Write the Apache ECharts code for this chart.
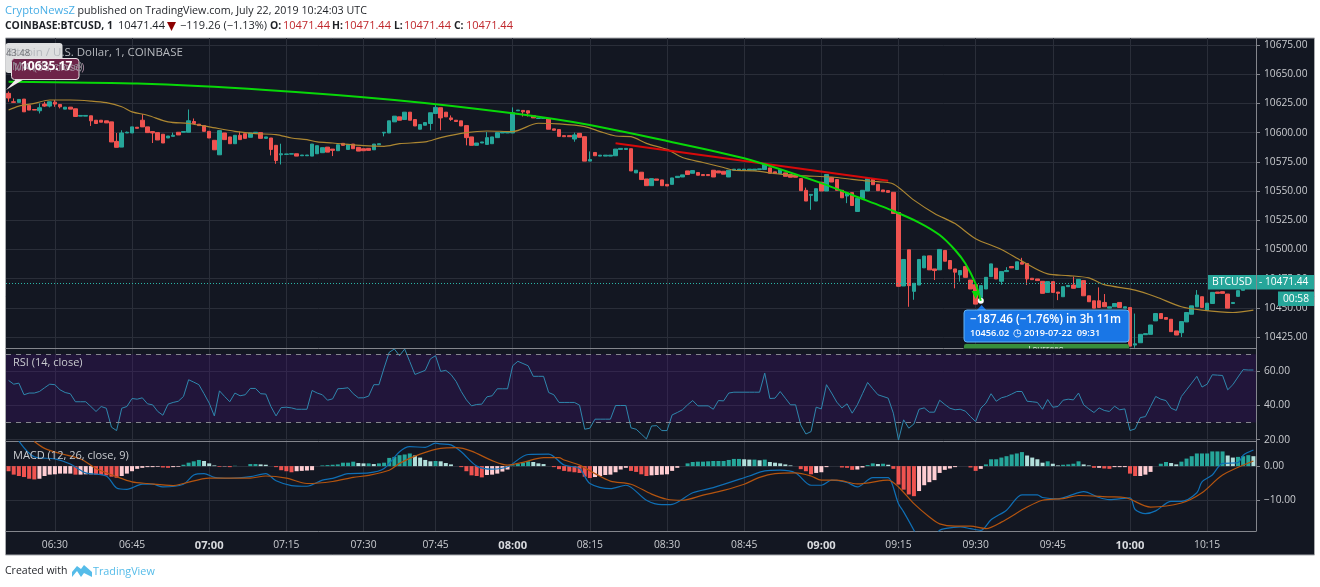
<!DOCTYPE html>
<html>
<head>
<meta charset="utf-8">
<style>html,body{margin:0;padding:0;background:#fff}#main{width:1320px;height:587px}</style>
<script src="https://cdn.jsdelivr.net/npm/echarts@6/dist/echarts.min.js"></script>
</head>
<body>
<div id="main"></div>
<script>
// one minute bars, 06:21 to 10:24 (the feed has no bar for 07:36)
var firstBarMinute = 381;
var missingMinute = 456;
var barCount = 243;

var candleOpen = [
10633.6,10626.4,10625.9,10628.7,10623.3,10619.8,10618.7,10624.4,10622.7,10626.1,
10624.1,10620.1,10621.8,10620.4,10614.1,10614.1,10614.4,10610.6,10610.6,10610.1,
10609.2,10592.5,10587.6,10599.7,10599.7,10604.6,10610.6,10604.9,10600.9,10600,
10598.6,10595.4,10596.8,10600.3,10600.3,10600.3,10609.5,10607.2,10606,10601.1,
10593.4,10581,10599.7,10596.3,10590.5,10597.7,10599.1,10596,10599.7,10600,
10595.1,10595.4,10589.1,10581,10581.4,10581.6,10581.9,10580.2,10580.2,10579.9,
10581.9,10582.8,10587.6,10585.9,10584.5,10590.8,10585.6,10590.2,10587.4,10586.2,
10586.5,10585.3,10589.6,10599.7,10599.7,10609.2,10613.5,10611.2,10617.5,10611.2,
10602.9,10606.3,10607.8,10616.4,10621.3,10617.5,10612.6,10610.6,10610.1,10606,
10596.3,10589.1,10591.1,10589.9,10590.5,10595.7,10599.7,10599.7,10599.7,10618.7,
10619,10618.7,10614.4,10612.1,10612.1,10611.8,10603.2,10602.6,10597.4,10597.4,
10594.5,10599.4,10596.5,10575.6,10583,10579.9,10579.9,10579.9,10580.2,10585.6,
10585.6,10586.2,10565.5,10566.1,10560.3,10554.6,10560.3,10559.5,10555.7,10555.7,
10561.5,10562,10567.2,10565.2,10565.8,10564.1,10564.1,10567.8,10567.2,10566.9,
10562,10567.8,10567.8,10567.8,10567.8,10567.8,10568.4,10568.4,10569.8,10566.4,
10564.9,10565.5,10564.1,10563.8,10560.6,10550.6,10546.3,10541.4,10557.5,10550,
10561.5,10559.8,10550.6,10545.7,10548.6,10532.5,10543.4,10550,10560.6,10555.7,
10550.9,10550.3,10548.9,10531.6,10468.7,10499.7,10464.1,10469.5,10484.2,10494.5,
10483.3,10482.5,10499.1,10490.5,10483.3,10478.2,10485.3,10473.8,10469.8,10458.9,
10466.1,10476.7,10483.9,10472.7,10481,10485.3,10482.8,10488.8,10487.9,10475.3,
10474.7,10472.7,10463.2,10472.4,10463.5,10459.5,10468.1,10469.5,10467.5,10473.3,
10460.3,10456,10456,10454.6,10449.7,10450.9,10454.6,10449.7,10450.3,10418.1,
10420.1,10427,10427.3,10438.8,10445.1,10441.7,10440.2,10430.2,10428.7,10437.9,
10444.5,10450.9,10459.5,10448,10453.7,10463.5,10463.8,10461.8,10453.7,10459.8,
10465,10467,10471.44];

var candleClose = [
10629.6,10625.9,10628.4,10617.8,10619.3,10619.3,10621.3,10622.7,10626.4,10624.4,
10622.1,10621.8,10620.1,10613.8,10614.7,10614.7,10610.1,10607.8,10608.9,10608.3,
10592,10587.4,10599.7,10600.3,10604.9,10603.7,10604.9,10600,10599.7,10593.7,
10591.1,10597.1,10597.7,10598,10600.9,10610.1,10607.8,10606,10601.1,10595.4,
10585.3,10601.7,10594,10590.5,10597.7,10594,10595.1,10599.7,10600.3,10595.1,
10596.3,10585.6,10576.1,10581.9,10581.7,10581.9,10579.9,10580.8,10580.8,10590.2,
10588.8,10587.1,10583.3,10584.8,10589.6,10589.1,10589.9,10586.2,10584.2,10584.5,
10584.8,10590.2,10590.5,10600.3,10610.1,10614.1,10610.6,10617.5,10610.6,10605.7,
10606.9,10608.6,10617,10621.6,10612.6,10613.5,10611.2,10609.5,10605.7,10595.7,
10589.1,10591.1,10592,10595.7,10596.3,10600,10600.6,10600.6,10617,10619.3,
10617.8,10616.7,10612.6,10612.4,10612.4,10602.9,10602,10596.8,10596.5,10596.5,
10598,10596,10575.6,10577,10580.2,10580.7,10580.7,10580.7,10585.9,10586.5,
10586.5,10567.2,10567.8,10559.8,10554.6,10560.6,10559.2,10554.6,10554.3,10561.2,
10562.6,10563.8,10564.1,10567.5,10563.5,10563.2,10563.2,10562,10565.5,10564.4,
10567.8,10568.7,10568.7,10568.7,10568.7,10568.7,10569,10573.6,10565.2,10564.9,
10568.4,10562.6,10561.8,10561.8,10550.3,10541.4,10547.1,10552,10550,10564.1,
10557.7,10550.6,10544.2,10548.3,10537.6,10543.7,10550.6,10560.6,10555.4,10550.3,
10549.4,10548.9,10530.8,10468.4,10491.4,10469,10471,10491.4,10494.3,10482.5,
10481.9,10500,10489.9,10483.3,10480.5,10481.9,10476.1,10466.1,10453.2,10469,
10476.1,10487.6,10474.7,10481,10481.9,10484.2,10489.4,10487.4,10474.7,10474.1,
10473.3,10462.4,10472.4,10463.2,10462.4,10468.1,10469.2,10466.7,10474.4,10460.3,
10455.2,10449.7,10450.3,10450.9,10450.9,10453.7,10450.3,10450.9,10417.2,10419.2,
10427.3,10427.9,10435.3,10445.1,10440.8,10440.2,10429.6,10426.7,10438.2,10446,
10451.7,10460.9,10450.3,10454,10463.2,10462.4,10462.4,10449.7,10454.6,10464.7,
10467,10469,10471.44];

// only the bars with a visible wick, by bar number
var wickHigh = {0:10635.17,1:10629.3,6:10625,7:10626.4,9:10627.9,21:10599.7,22:10602,23:10600.9,26:10615.8,32:10600,35:10619.8,36:10612.1,45:10600.9,
  53:10590.5,83:10623.6,86:10614.7,93:10600.6,98:10621.6,110:10600,113:10583.9,155:10552.9,175:10499.7,194:10484.8,197:10492.8,207:10476.7,212:10467.5,213:10461.8,219:10445.1,231:10465.2};
var wickLow = {0:10626.4,1:10625.6,6:10616.4,7:10622.1,8:10621.6,9:10622.1,10:10620.7,16:10605.7,28:10591.1,51:10580.5,52:10573.3,53:10572.7,63:10579.9,73:10596.8,
  82:10602,84:10602,86:10610.1,89:10589.1,100:10613.8,101:10613.8,110:10592.2,156:10533.9,163:10539.6,175:10450.9,176:10456.9,180:10473.8,184:10466.7,185:10472.4,193:10469.8,198:10469.5,204:10456.6,219:10415.8,228:10425};

var maBars = [0,2,5,8,12,16,19,22,24,27,31,35,39,44,48,52,55,58,60,63,69,73,76,81,84,89,93,98,103,107,112,115,118,121,124,128,131,135,139,141,145,149,152,155,160,164,167,169,172,176,180,184,188,193,197,202,206,210,213,219,223,228,232,238,242];
var maValues = [10619.3,10622.7,10625,10627.9,10627.9,10627,10625.6,10622.1,10617.8,10614.9,10609.2,10607.8,10604.9,10601.1,10599.1,10598.3,10595.4,10594,10592,10591.1,10588.8,10588.2,10590.5,10592,10595.7,10600,10601.4,10600.9,10608,10607.5,10605.2,10600.9,10597.1,10596.5,10590.8,10585.6,10578.7,10574.4,10570.1,10567.8,10567.2,10565,10563.5,10562.9,10562,10560,10558.6,10558,10556,10542.2,10530.8,10522.1,10509.2,10500,10490,10479,10477.6,10475.6,10469.8,10465.2,10459.5,10450.9,10448,10446,10448];

// drawn on the chart by the author
var arcBars = [0,25,50,75,98,113,128,143,158,165,172,177,181,184,186,188,189];
var arcValues = [10643.6,10642,10636.5,10627.9,10616.5,10606.5,10592.8,10578,10556.8,10544.9,10532.9,10523,10512.3,10499.5,10487.9,10470.4,10456.02];
var trendBars = [118,171];
var trendValues = [10590.8,10558.8];

var rsiValues = [
54.7,52.5,53.1,46.3,47.3,47.3,48.2,50.4,52.5,52.2,
49.2,47.6,46.9,42.2,42.2,42.2,39.4,36.5,39.4,38.4,
27.3,25.3,38.4,39.4,44.1,43.7,44.5,41,40.4,36.5,
34.3,40.8,41.8,42.5,45.3,55.1,53.7,52.2,46.9,41.4,
33.9,48.6,45.3,42.2,47.3,45.7,46.3,50,50,46.9,
46.7,39.4,33.9,38.8,39,38.6,37.8,37.8,37.8,48.8,
47.3,46.3,43.1,43.9,49.8,50,50.4,46.9,44.5,44.5,
45.5,52.2,52.2,62,71.2,73.1,69.2,73.1,65.7,58.2,
59.4,60.6,67.3,69.2,60,60.6,58.2,54.1,48.2,43.3,
39.8,40.6,40.8,45.1,45.7,49.8,49.8,49.8,63.3,65.9,
64.6,63.3,57.1,57.1,57.1,47.6,46.3,41.8,41.8,41.8,
41.8,40.2,26.1,26.7,32,32,32,32,40,40,
40,26.9,26.1,23.3,20.4,28,28.2,25.3,25.3,34.5,
35.9,37.5,40.4,42.9,39.8,39.8,39.8,37.8,42.9,42.7,
47.3,47.8,47.8,47.8,47.8,47.8,47.8,59,44.1,44.3,
48.2,44.3,40.4,40.4,28.6,23.3,24.7,39,38,52.2,
47.3,42,38.6,41,35.5,40.4,46.9,53.5,49.8,46.3,
45.3,44.3,35.5,19.8,31.6,26.7,29.2,37.8,38.6,36.1,
36.1,43.1,40.6,38.4,37.5,37.8,36.7,33.5,30.6,38.4,
41.4,46.9,42.5,44.5,45.3,46.7,48.2,48.2,42.5,42.2,
41.8,37.8,43.5,39,39.4,43.1,43.7,43.3,47.3,40.4,
38,35.9,38.6,37.1,36.5,39.6,37.5,38,25.3,26.3,
32.9,33.5,39.4,45.3,43.7,42.9,38.4,37.1,45.3,49.2,
53.1,57.1,50.8,52.5,58,57.8,57.6,49.2,52.2,56.7,
61,60.8,60.8];

var macdHist = [
-1.5,-2.5,-2.9,-3.2,-3.7,-3.9,-3.7,-2.9,-2.5,-2.4,
-2.2,-2.2,-2.2,-2.5,-2.5,-2.4,-2.4,-2.5,-2.6,-2.7,
-3.1,-3.4,-2.9,-2.2,-1.5,-.8,-.5,-.3,-.3,-.2,
-.4,-.5,-.3,-.2,.4,1,1.4,1.8,1.5,.8,
.2,-.2,-.1,-.3,.1,0,0,.6,.6,.5,
.4,0,-.3,-1.2,-1.5,-1.8,-1.5,-1.4,-1.3,-1.2,
0,.2,.3,.4,.5,1,1,1.3,.9,.8,
.8,.6,.8,1,2.4,2.7,3.2,3.4,3.7,3.1,
2.5,1.8,1.4,1.5,1.4,.9,.5,0,-.3,-1.5,
-2.7,-2.9,-3.3,-2.6,-2.5,-2.2,-1.6,-1,.2,.6,
1,1.4,1.2,.8,.6,0,-.3,-.9,-1.4,-1.6,
-1.8,-2,-3.1,-3.5,-3.2,-2.9,-2.6,-2.5,-1.8,-1,
-.5,-1.4,-1.7,-2.4,-2.9,-2.7,-2.6,-2.5,-2.4,-1.4,
-.5,0,.8,1.2,1.3,1.3,1.4,1.5,1.5,1.5,
1.8,2.1,2.1,2,1.9,1.9,1.7,1.9,1.2,1,
.8,.5,.2,0,-.9,-1.5,-2.4,-2,-1.8,-.3,
0,0,-.4,-.5,-1.1,-1,-.4,.3,.8,.6,
.7,.4,-.8,-5.4,-6.9,-8.3,-8.8,-7.3,-5.6,-4.7,
-4.1,-2,-1.1,-.7,-.3,0,0,-.4,-1.4,-.8,
.5,2,2,2.5,2.9,3.4,3.7,4.1,3.1,2.5,
2,1,1.4,.7,.2,.4,.5,.7,1.4,.5,
.2,-.5,-.5,-.7,-.8,-.3,-.3,-.3,-2.2,-2.9,
-2.9,-2.5,-1.7,0,.7,1.2,.9,.5,1.3,2.2,
2.9,3.7,3.7,3.7,4.3,4.3,4.3,3.1,2.5,2.7,
2.9,3.2,2.9];

var macdBars = [2,5,9,12,15,19,21,23,26,28,30,34,36,38,40,43,47,50,52,55,58,61,63,66,70,73,76,78,81,83,84,86,88,91,94,97,101,105,108,111,113,117,120,124,127,129,133,137,144,147,150,153,156,158,160,163,165,168,170,171,173,174,176,177,178,179,180,181,182,185,187,189,191,194,197,200,201,204,206,209,212,214,218,219,221,223,226,228,231,232,234,236,239,240,242];
var macdValues = [7.3,2.7,2.1,.6,-2,-2.9,-6.4,-6.8,-5.3,-5.3,-6.1,-5.3,-2.6,-2.2,-3.3,-3.6,-3.1,-2.2,-4.3,-5.7,-5.9,-4.1,-3.6,-2.2,-2,-.7,4.2,5.7,5.5,6.7,6.5,6.2,4.2,0,-.9,-.2,3.4,3.5,.3,-.7,-5.1,-6.6,-5.6,-10,-11.3,-11.2,-7.8,-6.3,-2.9,-1.4,-1.2,-2,-5.6,-5.6,-4.1,-4.8,-6.1,-3.4,-3.4,-3.4,-11,-13.4,-18.8,-22,-24,-23,-21,-18.8,-18.3,-17.8,-18.3,-18.8,-15.7,-12.9,-8.4,-8.4,-9.2,-9.6,-8.8,-7.5,-9.2,-9.8,-9.3,-12.7,-13.9,-13.1,-10.3,-10.3,-7.8,-4.6,-2.6,.8,1,3.2,4.7];
var signalBars = [5,7,10,14,17,21,24,27,32,34,39,43,47,50,54,58,63,67,70,74,76,80,84,87,90,94,97,100,104,107,108,111,114,117,121,125,128,131,135,139,143,146,149,153,156,158,161,165,170,171,173,176,179,181,184,187,190,193,198,201,205,208,214,217,222,228,232,236,242];
var signalValues = [7.2,5.2,3.7,2.1,-.7,-3.1,-4.6,-5.1,-5.7,-5.1,-3.5,-3.5,-3.5,-2.9,-3.5,-5.1,-4.5,-3.3,-2.7,-1.2,.8,3.5,5.2,5.4,4.4,1.6,.3,1.1,2.5,2.5,1.8,.3,-2.2,-4.4,-5.3,-8.2,-9.7,-10,-8.5,-7.1,-5.3,-3.3,-2.2,-2,-2.9,-4.1,-4.1,-5.2,-4.2,-4.1,-6.1,-11,-14.9,-16.9,-17.6,-17.6,-18.3,-16.4,-12,-10,-9.5,-8.6,-9,-9.2,-12,-10.8,-7.8,-2.6,1.5];

// tick labels
var priceTicks = [10425,10450,10475,10500,10525,10550,10575,10600,10625,10650,10675];
var rsiTicks = [20,40,60];
var macdTicks = [-10,0];
var lastPrice = 10471.44;
var markedPrice = 10456.02;

var barTimes = [];
for (var k = 0, m = firstBarMinute; k < barCount; k++, m++) {
  if (m == missingMinute) m++;
  var hh = Math.floor(m / 60), mm = m % 60;
  barTimes.push((hh < 10 ? "0" : "") + hh + ":" + (mm < 10 ? "0" : "") + mm);
}

function zip(a, b) {
  return a.map(function (v, i) { return [v, b[i]]; });
}

var candles = candleOpen.map(function (o, i) {
  var c = candleClose[i];
  var lo = wickLow[i] !== undefined ? wickLow[i] : Math.min(o, c);
  var hi = wickHigh[i] !== undefined ? wickHigh[i] : Math.max(o, c);
  return [o, c, lo, hi];
});

var histBars = macdHist.map(function (v, i) {
  var prev = i ? macdHist[i - 1] : 0;
  var col = v >= 0 ? (v >= prev ? "#26a69a" : "#b2dfdb") : (v < prev ? "#ef5350" : "#ffcdd2");
  return { value: v, itemStyle: { color: col } };
});

var bg = "#131722", gridCol = "#2a2e39", edge = "#84868d", axisText = "#c9cbcf";
var font = '"Open Sans"';

function isTick(i, t) { return Number(t.slice(3)) % 15 == 0; }

function xAxis(idx, withLabels) {
  return {
    type: "category", gridIndex: idx, data: barTimes, boundaryGap: true,
    axisLine: { show: true, onZero: false, lineStyle: { color: edge, width: 1 } },
    axisTick: { show: false },
    splitLine: { show: true, interval: isTick, alignWithLabel: true, lineStyle: { color: gridCol, width: 1 } },
    axisLabel: {
      show: withLabels, interval: isTick, margin: 9, fontSize: 10.3, color: axisText, fontFamily: font,
      formatter: function (t) { return t.slice(3) == "00" ? "{b|" + t + "}" : t; },
      rich: { b: { fontWeight: "bold", fontSize: 11.2, color: "#d8dade", fontFamily: font } }
    }
  };
}

function yAxis(idx, min, max, ticks) {
  return {
    type: "value", gridIndex: idx, position: "right", min: min, max: max, scale: true,
    axisLine: { show: true, onZero: false, lineStyle: { color: edge, width: 1 } },
    axisTick: { show: true, length: 4, customValues: ticks, lineStyle: { color: edge } },
    splitLine: { show: true, lineStyle: { color: gridCol, width: 1 } },
    axisLabel: {
      customValues: ticks, margin: 8, fontSize: 10.2, color: axisText, fontFamily: font, showMinLabel: true, showMaxLabel: true,
      formatter: function (v) { return (v < 0 ? "\u2212" : "") + Math.abs(v).toFixed(2); }
    }
  };
}

function text(str, x, y, size, fill, weight, align) {
  return {
    type: "text", z: 120, silent: true,
    style: { text: str, x: x, y: y, fill: fill, align: align || "left", verticalAlign: "middle",
      font: (weight || "normal") + " " + size + 'px ' + font }
  };
}
function box(x, y, w, h, fill, extra) {
  extra = extra || {};
  return { type: "rect", z: extra.z || 110, silent: true, shape: { x: x, y: y, width: w, height: h, r: extra.r || 0 },
    style: { fill: fill, stroke: extra.stroke || null, lineWidth: 1, opacity: extra.opacity || 1 } };
}
function tri(points, fill, z) {
  return { type: "polygon", z: z || 110, silent: true, shape: { points: points }, style: { fill: fill } };
}

var red = "#c0282d", dark = "#1e2126";
var overlays = [
  { type: "rect", z: -10, silent: true, shape: { x: 5.5, y: 38, width: 1309, height: 517 }, style: { fill: bg, stroke: "#a9abae", lineWidth: 1 } },
  // header
  text("CryptoNewsZ", 5, 11, 11.2, "#48aee6"),
  text("published on TradingView.com, July 22, 2019 10:24:03 UTC", 77.5, 11, 10.7, dark),
  text("COINBASE:BTCUSD, 1", 5, 26, 10.4, dark, "bold"),
  text("10471.44", 118, 26, 11, dark),
  tri([[167, 22], [176, 22], [171.5, 31]], "#8b0000"),
  text("\u2212119.26 (\u22121.13%)", 180, 26, 11, dark),
  text("O:", 270, 26, 10.4, dark, "bold"), text("10471.44", 283, 26, 11, red),
  text("H:", 332, 26, 10.4, dark, "bold"), text("10471.44", 344, 26, 11, red),
  text("L:", 394, 26, 10.4, dark, "bold"), text("10471.44", 404, 26, 11, red),
  text("C:", 454, 26, 10.4, dark, "bold"), text("10471.44", 466, 26, 11, red),
  // pane legends
  text("Bitcoin / U.S. Dollar, 1, COINBASE", 6, 53, 11.5, "#b5b8bd"),
  box(5.5, 43, 57, 30, "#ffffff", { r: 3, opacity: 0.86 }),
  text("43.48", 6, 53, 9.5, "#6f7176"),
  text("MA (50, close)", 12, 67, 11, "#8a8c90"),
  tri([[6, 90], [17, 78], [26, 78]], "#f2eaee"),
  box(11.5, 58.5, 67.5, 21, "#6d2449", { r: 3, stroke: "#e8e0e4" }),
  text("MA (50, close)", 14, 68, 11, "#a88ba0"),
  text("10635.17", 21, 67, 12, "#ffffff", "bold"),
  text("RSI (14, close)", 13, 363, 11, axisText),
  text("MACD (12, 26, close, 9)", 13, 456, 11, axisText),
  // strategy callout under the curve
  box(964, 344, 165, 8, "#388e3c", { r: 2 }),
  text("Lousseeo", 1046, 349, 8, "#ffffff", "normal", "center"),
  box(963, 348.5, 167, 4.5, bg, { z: 125 }),
  tri([[976, 311], [987, 311], [981.7, 305]], "#1976e6"),
  box(964, 310, 165, 32, "#1976e6", { r: 3, stroke: "#64b5f6" }),
  text("\u2212187.46 (\u22121.76%) in 3h 11m", 970, 320, 11.6, "#ffffff", "600"),
  text("10456.02", 970, 333, 9.2, "#ffffff", "600"),
  text("\u25F7", 1013, 333, 9.5, "#ffffff"),
  text("2019-07-22  09:31", 1024, 333, 9.2, "#ffffff", "600"),
  // last price tags
  box(1208, 275, 48, 14.5, "#26a69a"),
  text("BTCUSD", 1232, 282.5, 10.5, "#ffffff", "normal", "center"),
  box(1257, 275, 57, 14.5, "#26a69a"),
  text("- 10471.44", 1259, 282.5, 10.2, "#ffffff"),
  box(1278, 291.5, 36, 14.5, "#26a69a"),
  text("00:58", 1296, 299, 10.2, "#ffffff", "normal", "center"),
  // footer
  text("Created with", 5, 571, 10.5, dark),
  tri([[72, 577], [72, 572], [77, 566], [81, 569], [84, 565], [92, 572], [92, 577], [84, 573], [81, 577], [77, 571]], "#55bce9"),
  text("TradingView", 93, 572, 10.8, "#55bce9")
];

var chart = echarts.init(document.getElementById("main"));
chart.setOption({
  animation: false,
  backgroundColor: "#ffffff",
  grid: [
    { left: 6, width: 1250, top: 38, height: 310 },
    { left: 6, width: 1250, top: 348, height: 93 },
    { left: 6, width: 1250, top: 441, height: 90 }
  ],
  xAxis: [xAxis(0, false), xAxis(1, false), xAxis(2, true)],
  yAxis: [
    yAxis(0, 10415.6, 10681, priceTicks),
    yAxis(1, 19.2, 73.7, rsiTicks),
    yAxis(2, -19, 7.35, macdTicks)
  ],
  graphic: overlays,
  series: [
    {
      type: "candlestick", xAxisIndex: 0, yAxisIndex: 0, data: candles, barWidth: 4,
      itemStyle: { color: "#26a69a", color0: "#ef5350", borderColor: "#26a69a", borderColor0: "#ef5350", borderColorDoji: "#26a69a", borderWidth: 1 },
      markLine: {
        silent: true, symbol: "none", label: { show: false },
        lineStyle: { color: "#2bb5a7", type: [1, 2], width: 1, opacity: 1 },
        data: [{ yAxis: lastPrice }]
      }
    },
    {
      type: "line", xAxisIndex: 0, yAxisIndex: 0, data: zip(maBars, maValues), smooth: 0.3,
      showSymbol: false, lineStyle: { color: "#ad8732", width: 1.2 }, z: 3
    },
    {
      type: "line", xAxisIndex: 0, yAxisIndex: 0, data: zip(trendBars, trendValues),
      showSymbol: false, lineStyle: { color: "#d80a0a", width: 2 }, z: 4
    },
    {
      type: "line", xAxisIndex: 0, yAxisIndex: 0, data: zip(arcBars, arcValues), smooth: 0.25,
      showSymbol: false, lineStyle: { color: "#08d808", width: 2 }, z: 5,
      markPoint: {
        silent: true, label: { show: false },
        data: [
          { coord: [188, 10461], symbol: "triangle", symbolRotate: 180, symbolSize: 8, itemStyle: { color: "#08d808" } },
          { coord: [189, markedPrice], symbol: "circle", symbolSize: 6, itemStyle: { color: "#ffffff" } }
        ]
      }
    },
    {
      type: "line", xAxisIndex: 1, yAxisIndex: 1, data: rsiValues, showSymbol: false,
      lineStyle: { color: "#2f87ad", width: 1 }, z: 3,
      markArea: { silent: true, itemStyle: { color: "rgba(75,15,130,0.25)" }, data: [[{ yAxis: 30 }, { yAxis: 70 }]] },
      markLine: {
        silent: true, symbol: "none", label: { show: false },
        lineStyle: { color: "#84868d", type: [5, 5], width: 1 },
        data: [{ yAxis: 30 }, { yAxis: 70 }]
      }
    },
    {
      type: "bar", xAxisIndex: 2, yAxisIndex: 2, data: histBars, barWidth: 4
    },
    {
      type: "line", xAxisIndex: 2, yAxisIndex: 2, data: zip(macdBars, macdValues), smooth: 0.3,
      showSymbol: false, lineStyle: { color: "#0f6fb5", width: 1.2 }, z: 3
    },
    {
      type: "line", xAxisIndex: 2, yAxisIndex: 2, data: zip(signalBars, signalValues), smooth: 0.3,
      showSymbol: false, lineStyle: { color: "#b4540f", width: 1.2 }, z: 4
    }
  ]
});
</script>
</body>
</html>
